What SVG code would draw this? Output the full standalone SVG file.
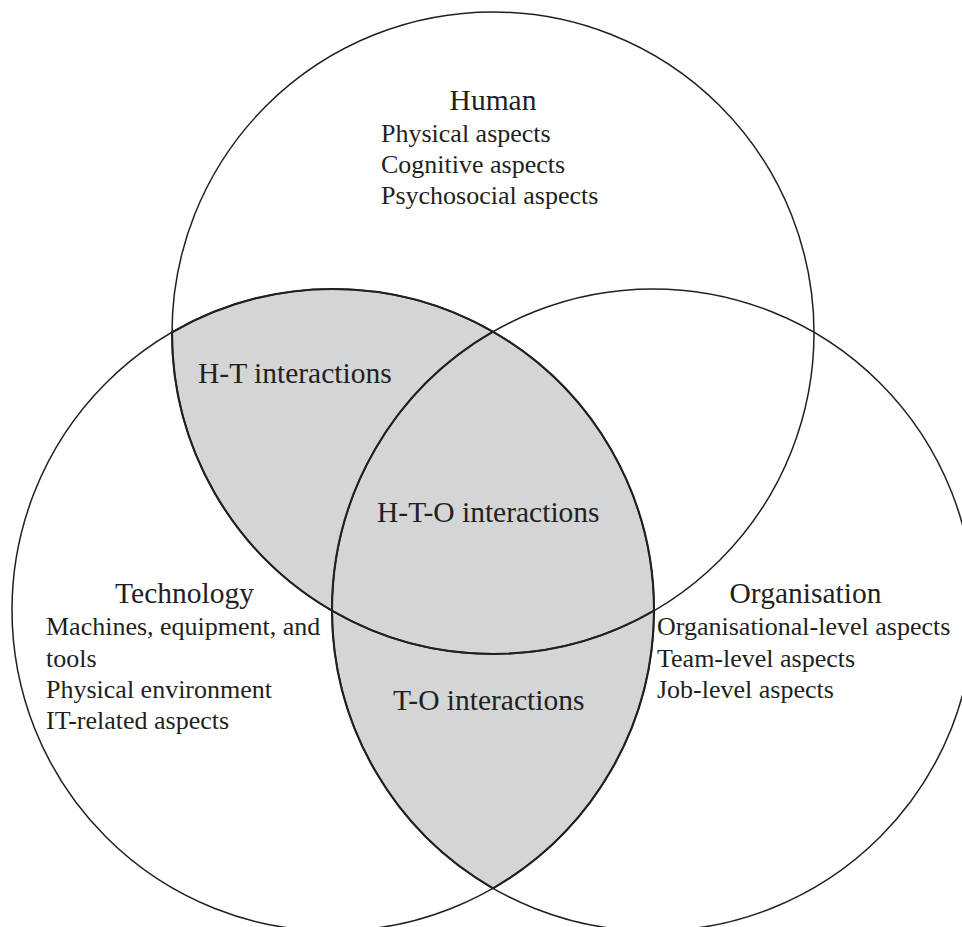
<svg xmlns="http://www.w3.org/2000/svg" width="962" height="927" viewBox="0 0 962 927">
<style>
.ring{fill:none;stroke:#231f20;stroke-width:1.5}
.edge{fill:none;stroke:#231f20;stroke-width:2.1}
.shade{fill:#d4d5d7;stroke:none}
text{font-family:"Liberation Serif","Times New Roman",serif;fill:#231f20}
.head{font-size:29.5px}
.item{font-size:26px}
</style>
<rect width="962" height="927" fill="#ffffff"/>
<g id="shaded">
<path class="shade" d="M172,332.3 A321,321 0 0 1 654,610.7 A321,321 0 0 1 493,888.3 A321,321 0 0 1 332,610.7 A321,321 0 0 1 172,332.3 Z"/>
</g>
<g id="circles">
<circle class="ring" cx="493" cy="333" r="321"/>
<circle class="ring" cx="333" cy="610" r="321"/>
<circle class="ring" cx="653" cy="610" r="321"/>
<path class="edge" d="M172,332.3 A321,321 0 0 1 654,610.7 A321,321 0 0 1 493,888.3 A321,321 0 0 1 332,610.7 A321,321 0 0 1 172,332.3 Z"/>
<path class="edge" d="M332,610.7 A321,321 0 0 0 654,610.7"/>
<path class="edge" d="M493,331.7 A321,321 0 0 0 332,610.7"/>
</g>
<g id="human">
<text class="head" x="493" y="110" text-anchor="middle">Human</text>
<text class="item" x="381" y="142">Physical aspects</text>
<text class="item" x="381" y="173">Cognitive aspects</text>
<text class="item" x="381" y="204">Psychosocial aspects</text>
</g>
<g id="technology">
<text class="head" x="184.5" y="603" text-anchor="middle">Technology</text>
<text class="item" x="46" y="635">Machines, equipment, and</text>
<text class="item" x="46" y="667">tools</text>
<text class="item" x="46" y="698">Physical environment</text>
<text class="item" x="46" y="729">IT-related aspects</text>
</g>
<g id="organisation">
<text class="head" x="805.5" y="603" text-anchor="middle">Organisation</text>
<text class="item" x="657" y="635">Organisational-level aspects</text>
<text class="item" x="657" y="667">Team-level aspects</text>
<text class="item" x="657" y="698">Job-level aspects</text>
</g>
<g id="ht">
<text class="head" x="198" y="383">H-T interactions</text>
</g>
<g id="hto">
<text class="head" x="377" y="522">H-T-O interactions</text>
</g>
<g id="to">
<text class="head" x="393" y="710">T-O interactions</text>
</g>
</svg>
